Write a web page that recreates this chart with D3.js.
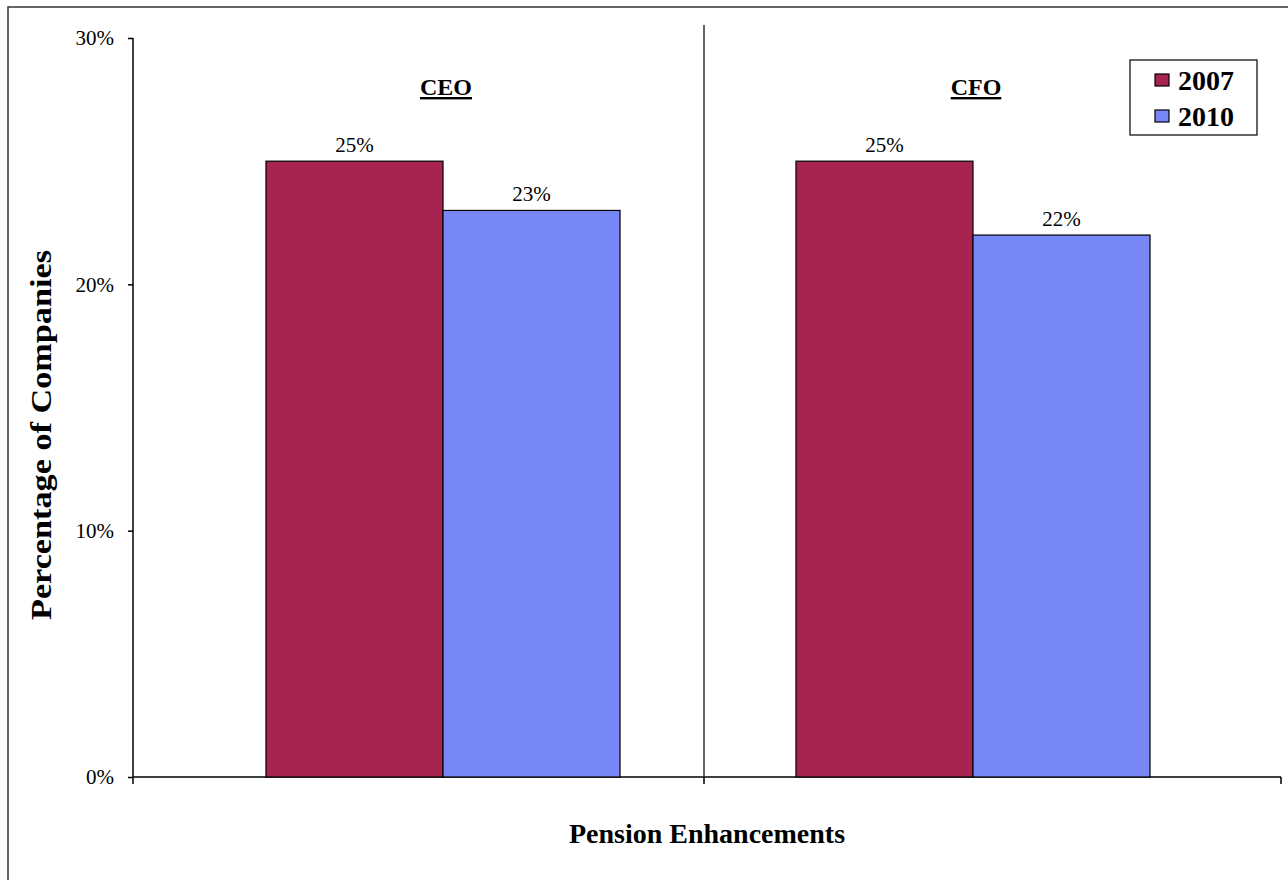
<!DOCTYPE html>
<html>
<head>
<meta charset="utf-8">
<script src="https://cdn.jsdelivr.net/npm/d3@7"></script>
<style>
  html, body { margin: 0; padding: 0; background: #ffffff; }
  svg { display: block; }
  text { font-family: "Liberation Serif", "Times New Roman", serif; fill: #000; }
</style>
</head>
<body>
<svg id="chart" width="1288" height="880"></svg>
<script>
// Chart data
const categories = ["CEO", "CFO"];
const seriesNames = ["2007", "2010"];
const values2007 = [0.25, 0.25];
const values2010 = [0.23, 0.22];
const yTickValues = [0, 0.10, 0.20, 0.30];
const colors = ["#A72350", "#7787F5"];

const svg = d3.select("#chart");
const fmt = d3.format(".0%");

// Outer chart frame
svg.append("rect")
  .attr("x", 8).attr("y", 7)
  .attr("width", 1300).attr("height", 900)
  .attr("fill", "none").attr("stroke", "#333").attr("stroke-width", 1.5);

// Scales
const y = d3.scaleLinear().domain([0, 0.30]).range([777, 38]);
const xAxisScale = d3.scaleBand().domain(categories).range([133, 1275]).padding(0);
const x0 = d3.scaleBand().domain(categories).range([178, 1238])
  .paddingInner(0.332).paddingOuter(0.166);
const x1 = d3.scaleBand().domain(seriesNames).range([0, x0.bandwidth()]).padding(0);
const color = d3.scaleOrdinal().domain(seriesNames).range(colors);

// Y axis
const yAxis = d3.axisLeft(y).tickValues(yTickValues).tickFormat(fmt).tickSize(5).tickPadding(14);
const gy = svg.append("g").attr("transform", "translate(133,0)").call(yAxis);
gy.select(".domain").attr("stroke", "#000").attr("stroke-width", 1.5)
  .attr("d", `M0,${y(0.30)}V${y(0) + 7}`);
gy.selectAll(".tick line").attr("stroke", "#000").attr("stroke-width", 1.5);
gy.selectAll(".tick text").style("font-size", "21px").attr("font-family", null);

// X axis line with category boundary ticks
const axisEnd = 1281;
const boundaries = [xAxisScale("CFO"), axisEnd];
svg.append("line")
  .attr("x1", xAxisScale.range()[0]).attr("x2", axisEnd)
  .attr("y1", y(0)).attr("y2", y(0))
  .attr("stroke", "#000").attr("stroke-width", 1.5);
svg.selectAll(".xtick").data(boundaries).enter().append("line")
  .attr("x1", d => d).attr("x2", d => d)
  .attr("y1", y(0)).attr("y2", y(0) + 7)
  .attr("stroke", "#000").attr("stroke-width", 1.5);

// Divider between the CEO and CFO panels
svg.append("line")
  .attr("x1", xAxisScale("CFO")).attr("x2", xAxisScale("CFO"))
  .attr("y1", 25).attr("y2", y(0))
  .attr("stroke", "#333").attr("stroke-width", 1.5);

// Bars
const rows = categories.map((c, i) => ({
  category: c,
  items: [
    { series: "2007", value: values2007[i] },
    { series: "2010", value: values2010[i] }
  ]
}));

const groups = svg.selectAll(".group").data(rows).enter().append("g")
  .attr("transform", d => `translate(${x0(d.category)},0)`);

groups.selectAll("rect").data(d => d.items).enter().append("rect")
  .attr("x", d => x1(d.series))
  .attr("y", d => y(d.value))
  .attr("width", x1.bandwidth())
  .attr("height", d => y(0) - y(d.value))
  .attr("fill", d => color(d.series))
  .attr("stroke", "#000").attr("stroke-width", 1.2);

groups.selectAll(".val").data(d => d.items).enter().append("text")
  .attr("x", d => x1(d.series) + x1.bandwidth() / 2)
  .attr("y", d => y(d.value) - 9)
  .attr("text-anchor", "middle")
  .style("font-size", "21px")
  .text(d => fmt(d.value));

// Panel headings
svg.selectAll(".heading").data(categories).enter().append("text")
  .attr("x", d => x0(d) + x0.bandwidth() / 2 + 3)
  .attr("y", 95)
  .attr("text-anchor", "middle")
  .style("font-size", "24px").style("font-weight", "bold")
  .style("text-decoration", "underline")
  .text(d => d);

// Axis titles
svg.append("text")
  .attr("x", 707).attr("y", 843)
  .attr("text-anchor", "middle")
  .style("font-size", "28px").style("font-weight", "bold")
  .text("Pension Enhancements");

svg.append("text")
  .attr("transform", "translate(51,435) rotate(-90)")
  .attr("text-anchor", "middle")
  .attr("textLength", 370).attr("lengthAdjust", "spacingAndGlyphs")
  .style("font-size", "30px").style("font-weight", "bold")
  .text("Percentage of Companies");

// Legend
const legend = svg.append("g").attr("transform", "translate(1130,60)");
legend.append("rect")
  .attr("width", 127).attr("height", 75)
  .attr("fill", "#fff").attr("stroke", "#000").attr("stroke-width", 1.2);
const li = legend.selectAll(".item").data(seriesNames).enter().append("g")
  .attr("transform", (d, i) => `translate(25,${14 + i * 36})`);
li.append("rect")
  .attr("width", 14).attr("height", 12)
  .attr("fill", d => color(d)).attr("stroke", "#000").attr("stroke-width", 1.2);
li.append("text")
  .attr("x", 23).attr("y", 16)
  .style("font-size", "28px").style("font-weight", "bold")
  .text(d => d);
</script>
</body>
</html>
